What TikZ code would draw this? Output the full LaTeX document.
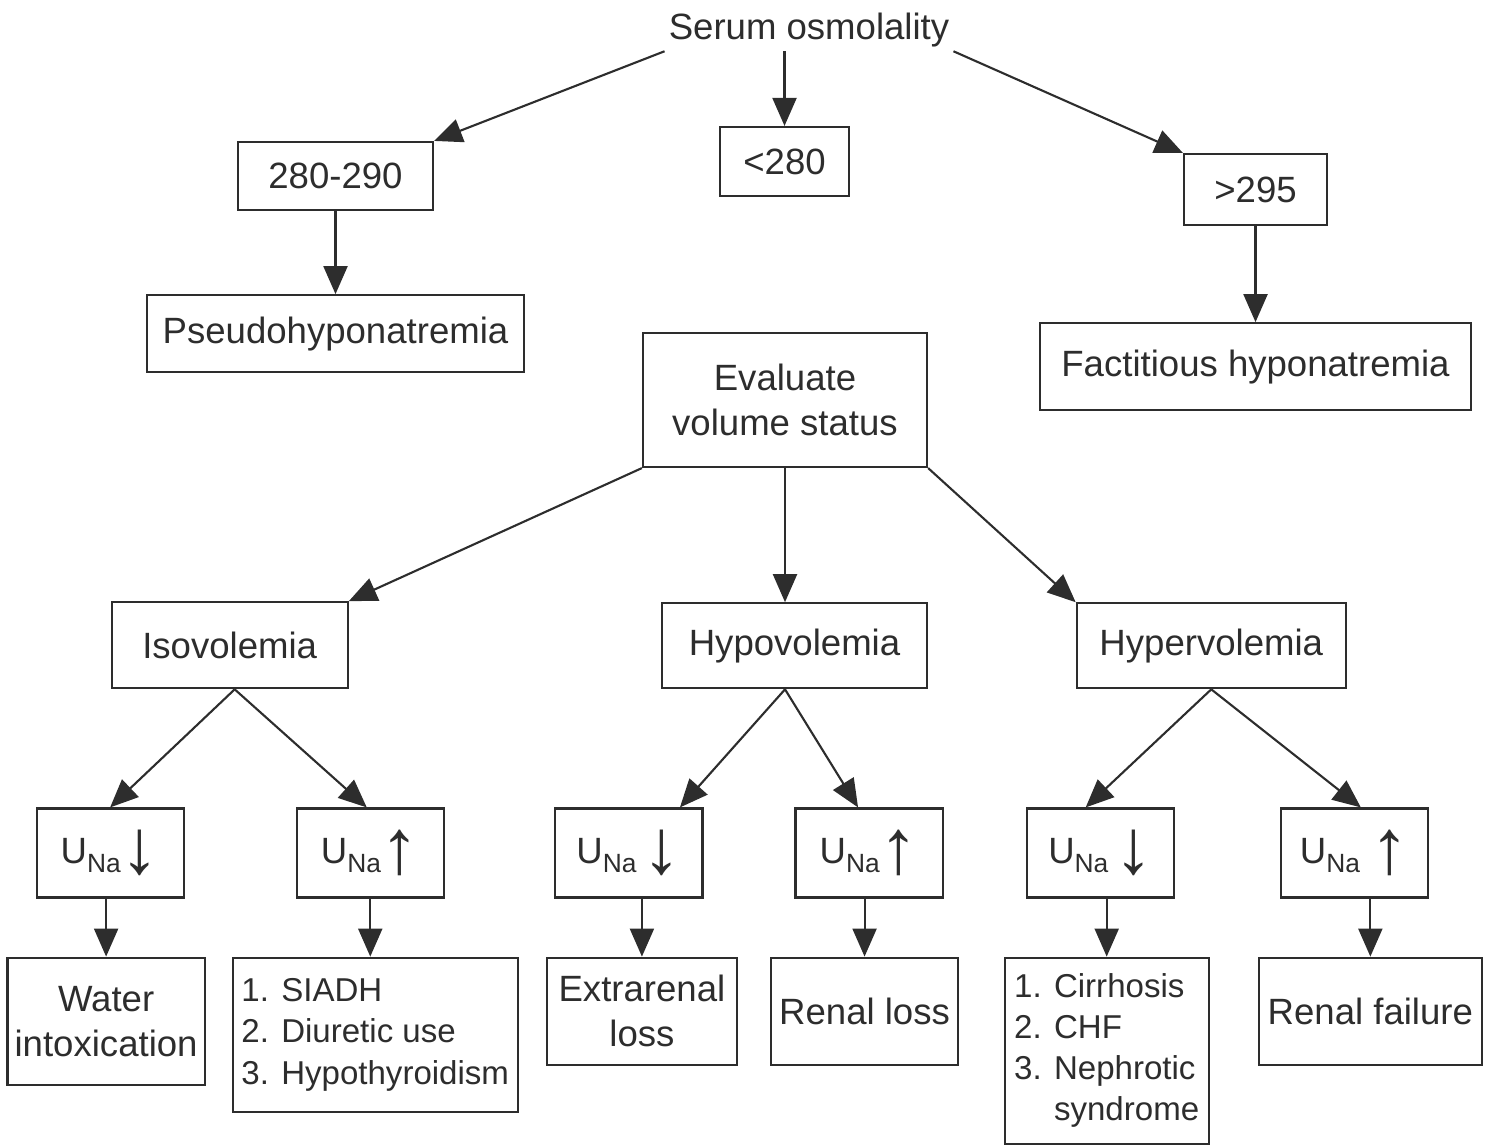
\documentclass[tikz,border=0pt]{standalone}
\usepackage{fontspec}
\setmainfont{Liberation Sans}
\usepackage{tikz}
\usetikzlibrary{positioning,arrows.meta}
\definecolor{InkGray}{RGB}{45,45,45}
\newcommand{\una}[1]{U\raisebox{-0.5ex}{\fontsize{7.5}{8}\selectfont Na}#1}
\newcommand{\dnarr}{\raisebox{-3pt}{\fontsize{22}{22}\selectfont ↓}}
\newcommand{\uparr}{\raisebox{-3pt}{\fontsize{22}{22}\selectfont ↑}}

\begin{document}
\begin{tikzpicture}[
  x=0.01cm, y=-0.01cm,
  font=\fontsize{10.4}{12.8}\selectfont,
  color=InkGray,
  box/.style={draw=InkGray,line width=0.6pt,align=center,inner sep=0pt},
  lst/.style={box,font=\fontsize{9.4}{11.7}\selectfont},
  unabox/.style={box,minimum width=14.7mm,minimum height=8.9mm},
  ar/.style={-{Triangle[length=2.8mm,width=2.4mm]},draw=InkGray,line width=0.6pt}
]
\useasboundingbox (0,0) rectangle (1489,1146);
% osmolality
\node[inner sep=1pt] (serum) at (809,30) {Serum osmolality};
\node[box,minimum width=19.5mm,minimum height=6.8mm] (normosm) at (335.5,176) {280-290};
\node[box,minimum width=12.9mm,minimum height=6.9mm] (hyposm) at (784.5,161.5) {<280};
\node[box,minimum width=14.3mm,minimum height=7.1mm] (hyperosm) at (1255.5,189.5) {>295};
\node[box,minimum width=37.6mm,minimum height=7.7mm,below=8.3mm of normosm] (pseudo) {Pseudohyponatremia};
\node[box,minimum width=43mm,minimum height=8.7mm,below=9.6mm of hyperosm] (factit) {Factitious hyponatremia};
% volume status
\node[box,minimum width=28.4mm,minimum height=13.4mm] (evalvol) at (785,400) {Evaluate\\volume status};
\node[box,minimum width=23.6mm,minimum height=8.6mm,below=13.3mm of evalvol,xshift=-55.5mm] (isovol) {Isovolemia};
\node[box,minimum width=26.5mm,minimum height=8.5mm,below=13.4mm of evalvol,xshift=0.95mm] (hypovol) {Hypovolemia};
\node[box,minimum width=26.9mm,minimum height=8.5mm,below=13.4mm of evalvol,xshift=42.6mm] (hypervol) {Hypervolemia};
% urine sodium
\node[unabox,below=11.8mm of isovol,xshift=-11.95mm] (una1) {\una{\dnarr}};
\node[unabox,below=11.8mm of isovol,xshift=14.05mm] (una2) {\una{\uparr}};
\node[unabox,below=11.8mm of hypovol,xshift=-16.55mm] (una3) {\una{\,\dnarr}};
\node[unabox,below=11.8mm of hypovol,xshift=7.45mm] (una4) {\una{\uparr}};
\node[unabox,below=11.8mm of hypervol,xshift=-11.05mm] (una5) {\una{\,\dnarr}};
\node[unabox,below=11.8mm of hypervol,xshift=14.3mm] (una6) {\una{\ \uparr}};
% causes
\node[box,minimum width=19.7mm,minimum height=12.7mm,below=5.8mm of una1,xshift=-0.4mm] (water) {Water\\intoxication};
\node[lst,minimum width=28.5mm,minimum height=15.4mm,below=5.8mm of una2,xshift=0.5mm] (siadh) {\begin{tabular}{@{}l@{ }l@{}}1. & SIADH\\2. & Diuretic use\\3. & Hypothyroidism\end{tabular}};
\node[box,minimum width=19mm,minimum height=10.7mm,below=5.8mm of una3,xshift=1.3mm] (extraren) {Extrarenal\\loss};
\node[box,minimum width=18.7mm,minimum height=10.7mm,below=5.8mm of una4,xshift=-0.45mm] (renloss) {Renal loss};
\node[lst,minimum width=20.4mm,minimum height=18.6mm,below=5.8mm of una5,xshift=0.6mm] (cirrh) {\begin{tabular}{@{}l@{ }l@{}}1. & Cirrhosis\\2. & CHF\\3. & Nephrotic\\ & syndrome\end{tabular}};
\node[box,minimum width=22.3mm,minimum height=10.7mm,below=5.8mm of una6,xshift=1.6mm] (renfail) {Renal failure};
% arrows
\draw[ar] (serum.south west) -- (normosm.north east);
\draw[ar] (serum.south -| hyposm) -- (hyposm);
\draw[ar] (serum.south east) -- (hyperosm.north west);
\draw[ar] (normosm) -- (pseudo);
\draw[ar] (hyperosm) -- (factit);
\draw[ar] (evalvol.south west) -- (isovol.north east);
\draw[ar] (evalvol) -- (evalvol |- hypovol.north);
\draw[ar] (evalvol.south east) -- (hypervol.north west);
\draw[ar] ([xshift=0.5mm]isovol.south) -- (una1.north);
\draw[ar] ([xshift=0.5mm]isovol.south) -- ([xshift=-0.35mm]una2.north);
\draw[ar] (hypovol.south -| evalvol) -- ([xshift=5.1mm]una3.north);
\draw[ar] (hypovol.south -| evalvol) -- ([xshift=-1.1mm]una4.north);
\draw[ar] (hypervol.south) -- ([xshift=-1.5mm]una5.north);
\draw[ar] (hypervol.south) -- ([xshift=0.65mm]una6.north);
\draw[ar] (water.north |- una1.south) -- (water.north);
\draw[ar] (una2) -- (una2 |- siadh.north);
\draw[ar] (extraren.north |- una3.south) -- (extraren.north);
\draw[ar] (renloss.north |- una4.south) -- (renloss.north);
\draw[ar] (cirrh.north |- una5.south) -- (cirrh.north);
\draw[ar] (renfail.north |- una6.south) -- (renfail.north);
\end{tikzpicture}
\end{document}
